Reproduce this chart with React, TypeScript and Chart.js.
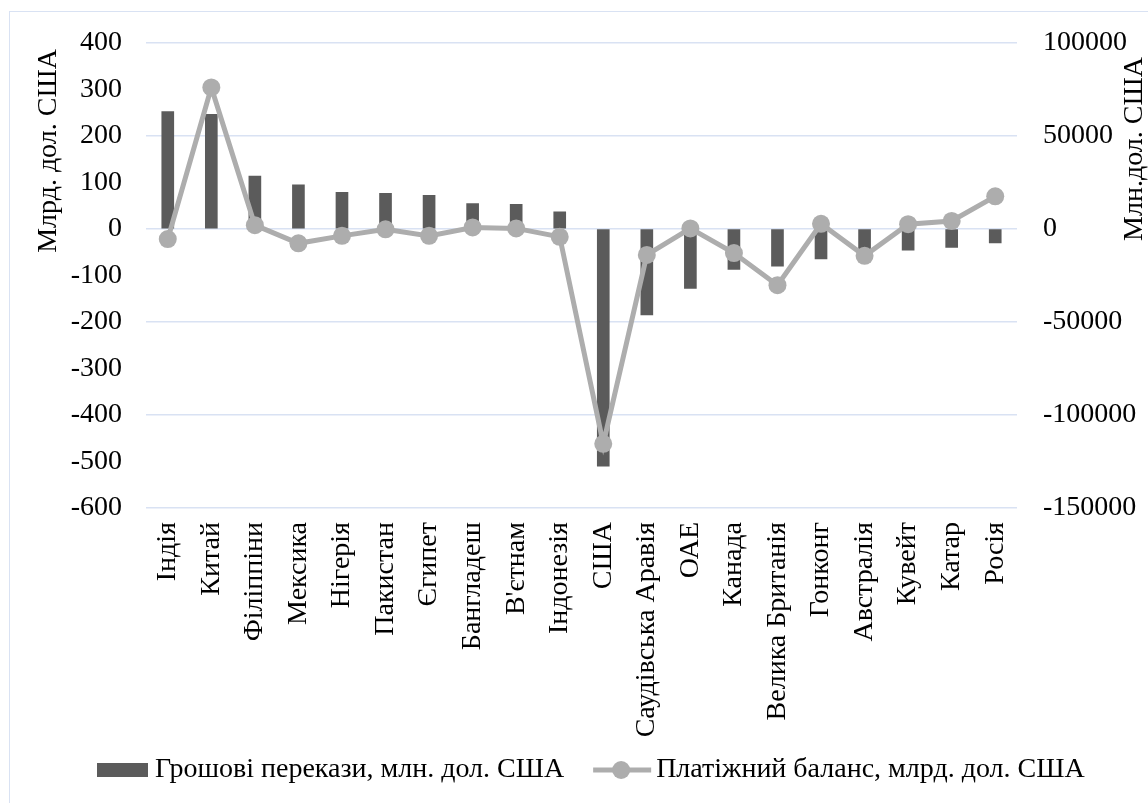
import React, { useEffect, useRef } from "react";
import { Chart, registerables } from "chart.js";

Chart.register(...registerables);

const categories = [
  "Індія", "Китай", "Філіппіни", "Мексика", "Нігерія", "Пакистан", "Єгипет",
  "Бангладеш", "В'єтнам", "Індонезія", "США", "Саудівська Аравія", "ОАЕ",
  "Канада", "Велика Британія", "Гонконг", "Австралія", "Кувейт", "Катар", "Росія",
];
// Remittances, million USD (right axis)
const remittances = [
  63000, 61500, 28400, 23700, 19700, 19100, 18000, 13600, 13200, 9100,
  -127500, -46200, -32000, -21800, -20000, -16200, -11000, -11400, -10000, -7500,
];
// Balance of payments, billion USD (left axis)
const balance = [
  -22, 304, 8, -31, -15, -1, -15, 3, 1, -17,
  -462, -56, 1, -52, -121, 11, -58, 10, 17, 70,
];
const leftTicks = { min: -600, max: 400, step: 100 };
const rightTicks = { min: -150000, max: 100000, step: 50000 };
const leftTitle = "Млрд. дол. США";
const rightTitle = "Млн.дол. США";
const barLabel = "Грошові перекази, млн. дол. США";
const lineLabel = "Платіжний баланс, млрд. дол. США";

const FONT = '"Liberation Serif", "Times New Roman", serif';
const FS = 28;
const BAR_COLOR = "#5b5b5b";
const LINE_COLOR = "#adadad";
const GRID_COLOR = "#d9e2f3";

const overlay = {
  id: "overlay",
  afterDraw(chart: any) {
    const ctx = chart.ctx as CanvasRenderingContext2D;
    ctx.save();
    ctx.font = `${FS}px ${FONT}`;
    ctx.fillStyle = "#000";
    ctx.textBaseline = "middle";
    // axis titles
    ctx.save();
    ctx.translate(49, 151);
    ctx.rotate(-Math.PI / 2);
    ctx.textAlign = "center";
    ctx.fillText(leftTitle, 0, 0);
    ctx.restore();
    ctx.save();
    ctx.translate(1135, 149);
    ctx.rotate(-Math.PI / 2);
    ctx.textAlign = "center";
    ctx.fillText(rightTitle, 0, 0);
    ctx.restore();
    // legend
    const ly = 770;
    ctx.fillStyle = BAR_COLOR;
    ctx.fillRect(97, 763, 51, 14);
    ctx.fillStyle = "#000";
    ctx.textAlign = "left";
    ctx.fillText(barLabel, 155, ly);
    const w1 = ctx.measureText(barLabel).width;
    const lx = 155 + w1 + 29;
    ctx.strokeStyle = LINE_COLOR;
    ctx.lineWidth = 5;
    ctx.beginPath();
    ctx.moveTo(lx, ly);
    ctx.lineTo(lx + 58, ly);
    ctx.stroke();
    ctx.fillStyle = LINE_COLOR;
    ctx.beginPath();
    ctx.arc(lx + 28, ly, 9, 0, Math.PI * 2);
    ctx.fill();
    ctx.fillStyle = "#000";
    ctx.fillText(lineLabel, lx + 63, ly);
    ctx.restore();
  },
};

export default function App() {
  const ref = useRef<HTMLCanvasElement | null>(null);
  useEffect(() => {
    if (!ref.current) return;
    const chart = new Chart(ref.current, {
      type: "bar",
      data: {
        labels: categories,
        datasets: [
          {
            type: "bar",
            label: barLabel,
            data: remittances,
            yAxisID: "y1",
            backgroundColor: BAR_COLOR,
            barThickness: 12,
            order: 1,
          },
          {
            type: "line",
            label: lineLabel,
            data: balance,
            yAxisID: "y",
            borderColor: LINE_COLOR,
            backgroundColor: LINE_COLOR,
            borderWidth: 5,
            pointRadius: 9,
            pointBorderWidth: 0,
            pointBackgroundColor: LINE_COLOR,
            tension: 0,
            order: 0,
          } as any,
        ],
      },
      options: {
        responsive: false,
        animation: false,
        devicePixelRatio: 1,
        layout: { padding: { top: 41, left: 0, right: 0, bottom: 0 } },
        plugins: { legend: { display: false }, tooltip: { enabled: false } },
        scales: {
          x: {
            grid: { display: false, drawTicks: false },
            border: { display: false },
            ticks: {
              minRotation: 90,
              maxRotation: 90,
              autoSkip: false,
              padding: 14,
              color: "#000",
              font: { family: FONT, size: FS },
            },
            afterFit: (s: any) => { s.height = 295; },
          },
          y: {
            position: "left",
            min: leftTicks.min,
            max: leftTicks.max,
            grid: { display: false, drawTicks: false },
            border: { display: false },
            ticks: {
              stepSize: leftTicks.step,
              padding: 24,
              color: "#000",
              font: { family: FONT, size: FS },
              callback: (v: any) => String(v),
            },
            afterFit: (s: any) => { s.width = 146; },
          },
          y1: {
            position: "right",
            min: rightTicks.min,
            max: rightTicks.max,
            grid: { display: true, drawTicks: false, color: GRID_COLOR, lineWidth: 1.5 },
            border: { display: false },
            ticks: {
              stepSize: rightTicks.step,
              padding: 26,
              color: "#000",
              font: { family: FONT, size: FS },
              callback: (v: any) => String(v),
            },
            afterFit: (s: any) => { s.width = 131; },
          },
        },
      },
      plugins: [overlay],
    });
    return () => chart.destroy();
  }, []);
  return (
    <div style={{ position: "absolute", left: 0, top: 0, width: 1148, height: 803, overflow: "hidden", background: "#fff" }}>
      <div style={{ position: "absolute", left: 9, top: 11, width: 1200, height: 900, border: `1.5px solid ${GRID_COLOR}` }} />
      <canvas ref={ref} width={1148} height={803} style={{ position: "absolute", left: 0, top: 0, width: 1148, height: 803 }} />
    </div>
  );
}
